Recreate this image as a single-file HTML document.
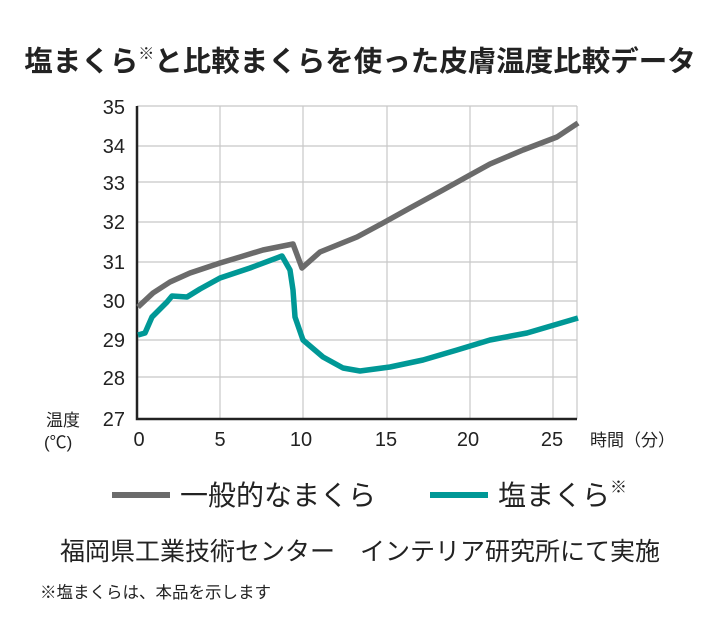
<!DOCTYPE html>
<html><head><meta charset="utf-8"><style>
body{margin:0;background:#fff;}
svg text{font-family:"Liberation Sans","Noto Sans CJK JP",sans-serif;fill:#222;}
</style></head><body>
<svg width="720" height="620" viewBox="0 0 720 620" xmlns="http://www.w3.org/2000/svg">
<text x="360" y="71" text-anchor="middle" font-size="28.5" font-weight="bold">塩まくら<tspan font-size="16" dy="-12">※</tspan><tspan dy="12">と比較まくらを使った皮膚温度比較データ</tspan></text>
<g stroke="#c8c8c8" stroke-width="1.2">
<line x1="137" y1="106" x2="577" y2="106"/><line x1="137" y1="146" x2="577" y2="146"/>
<line x1="137" y1="182" x2="577" y2="182"/><line x1="137" y1="222" x2="577" y2="222"/>
<line x1="137" y1="262" x2="577" y2="262"/><line x1="137" y1="301" x2="577" y2="301"/>
<line x1="137" y1="340" x2="577" y2="340"/><line x1="137" y1="377" x2="577" y2="377"/>
<line x1="220" y1="106" x2="220" y2="419"/><line x1="303" y1="106" x2="303" y2="419"/>
<line x1="387" y1="106" x2="387" y2="419"/><line x1="470" y1="106" x2="470" y2="419"/>
<line x1="553" y1="106" x2="553" y2="419"/><line x1="577" y1="106" x2="577" y2="419"/>
</g>
<path d="M137 106V419H577" fill="none" stroke="#222" stroke-width="2.5"/>
<g font-size="20" text-anchor="end">
<text x="125" y="114">35</text><text x="125" y="153">34</text><text x="125" y="190">33</text>
<text x="125" y="229">32</text><text x="125" y="269">31</text><text x="125" y="308">30</text>
<text x="125" y="347">29</text><text x="125" y="385">28</text><text x="125" y="426">27</text>
</g>
<g font-size="20" text-anchor="middle">
<text x="139" y="446">0</text><text x="220" y="446">5</text><text x="301" y="446">10</text>
<text x="386" y="446">15</text><text x="468" y="446">20</text><text x="552" y="446">25</text>
</g>
<text x="46" y="426" font-size="17">温度</text>
<text x="44" y="448" font-size="17">(℃)</text>
<text x="590" y="446" font-size="17">時間（分）</text>
<polyline fill="none" stroke="#6b6b6b" stroke-width="5.5" stroke-linejoin="round" points="138,307 153,293 170,282 190,273 220,263 240,257 263,250 293,244 302,268 320,252 357,237 383,223 410,208 443,190 470,175 490,164 523,150 557,137 578,123"/>
<polyline fill="none" stroke="#009896" stroke-width="5.5" stroke-linejoin="round" points="138,335 145,333 152,317 167,302 172,296 187,297 200,289 220,278 250,268 282,256 290,270 293,290 295,317 303,340 323,357 343,368 360,371 390,367 423,360 457,350 490,340 527,333 578,318"/>
<line x1="112" y1="495" x2="170" y2="495" stroke="#6b6b6b" stroke-width="6"/>
<text x="180" y="505" font-size="28">一般的なまくら</text>
<line x1="430" y1="495" x2="488" y2="495" stroke="#009896" stroke-width="6"/>
<text x="498" y="505" font-size="28">塩まくら<tspan font-size="17" dy="-12">※</tspan></text>
<text x="360" y="560" text-anchor="middle" font-size="25">福岡県工業技術センター　インテリア研究所にて実施</text>
<text x="40" y="598" font-size="16.5">※塩まくらは、本品を示します</text>
</svg>
</body></html>
